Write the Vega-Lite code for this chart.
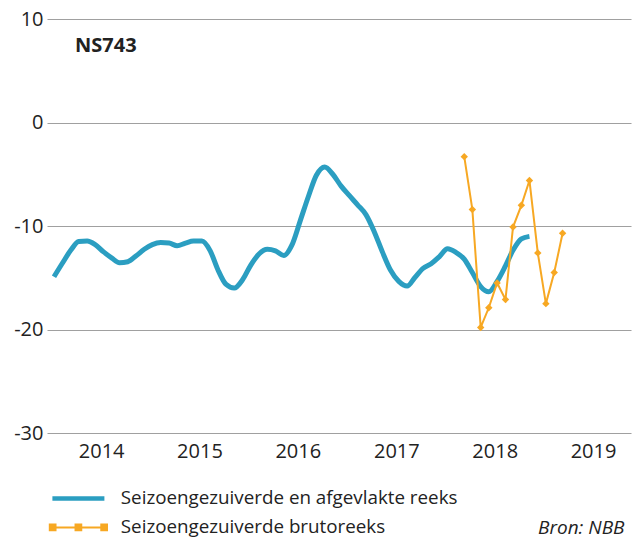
{
  "$schema": "https://vega.github.io/schema/vega-lite/v6.json",
  "width": 584,
  "height": 414,
  "autosize": {"type": "none"},
  "padding": {"left": 47, "top": 19, "right": 1, "bottom": 106},
  "background": "white",
  "title": {"text": "NS743", "anchor": "start", "frame": "group", "offset": -47, "dx": 28, "fontSize": 20, "font": "Open Sans", "fontWeight": "bold", "color": "#222222"},
  "config": {"view": {"stroke": null}, "font": "Open Sans"},
  "data": {"values": [
    {"date": "2013-07-10", "value": -14.9, "series": "Seizoengezuiverde en afgevlakte reeks"},
    {"date": "2013-08-10", "value": -13.6, "series": "Seizoengezuiverde en afgevlakte reeks"},
    {"date": "2013-09-10", "value": -12.35, "series": "Seizoengezuiverde en afgevlakte reeks"},
    {"date": "2013-10-10", "value": -11.5, "series": "Seizoengezuiverde en afgevlakte reeks"},
    {"date": "2013-11-10", "value": -11.45, "series": "Seizoengezuiverde en afgevlakte reeks"},
    {"date": "2013-12-10", "value": -11.8, "series": "Seizoengezuiverde en afgevlakte reeks"},
    {"date": "2014-01-10", "value": -12.5, "series": "Seizoengezuiverde en afgevlakte reeks"},
    {"date": "2014-02-10", "value": -13.1, "series": "Seizoengezuiverde en afgevlakte reeks"},
    {"date": "2014-03-10", "value": -13.55, "series": "Seizoengezuiverde en afgevlakte reeks"},
    {"date": "2014-04-10", "value": -13.45, "series": "Seizoengezuiverde en afgevlakte reeks"},
    {"date": "2014-05-10", "value": -12.9, "series": "Seizoengezuiverde en afgevlakte reeks"},
    {"date": "2014-06-10", "value": -12.25, "series": "Seizoengezuiverde en afgevlakte reeks"},
    {"date": "2014-07-10", "value": -11.8, "series": "Seizoengezuiverde en afgevlakte reeks"},
    {"date": "2014-08-10", "value": -11.6, "series": "Seizoengezuiverde en afgevlakte reeks"},
    {"date": "2014-09-10", "value": -11.65, "series": "Seizoengezuiverde en afgevlakte reeks"},
    {"date": "2014-10-10", "value": -11.9, "series": "Seizoengezuiverde en afgevlakte reeks"},
    {"date": "2014-11-10", "value": -11.65, "series": "Seizoengezuiverde en afgevlakte reeks"},
    {"date": "2014-12-10", "value": -11.45, "series": "Seizoengezuiverde en afgevlakte reeks"},
    {"date": "2015-01-10", "value": -11.45, "series": "Seizoengezuiverde en afgevlakte reeks"},
    {"date": "2015-02-10", "value": -12.4, "series": "Seizoengezuiverde en afgevlakte reeks"},
    {"date": "2015-03-10", "value": -14.2, "series": "Seizoengezuiverde en afgevlakte reeks"},
    {"date": "2015-04-10", "value": -15.65, "series": "Seizoengezuiverde en afgevlakte reeks"},
    {"date": "2015-05-10", "value": -16.0, "series": "Seizoengezuiverde en afgevlakte reeks"},
    {"date": "2015-06-10", "value": -15.2, "series": "Seizoengezuiverde en afgevlakte reeks"},
    {"date": "2015-07-10", "value": -13.8, "series": "Seizoengezuiverde en afgevlakte reeks"},
    {"date": "2015-08-10", "value": -12.7, "series": "Seizoengezuiverde en afgevlakte reeks"},
    {"date": "2015-09-10", "value": -12.25, "series": "Seizoengezuiverde en afgevlakte reeks"},
    {"date": "2015-10-10", "value": -12.4, "series": "Seizoengezuiverde en afgevlakte reeks"},
    {"date": "2015-11-10", "value": -12.85, "series": "Seizoengezuiverde en afgevlakte reeks"},
    {"date": "2015-12-10", "value": -11.85, "series": "Seizoengezuiverde en afgevlakte reeks"},
    {"date": "2016-01-10", "value": -9.5, "series": "Seizoengezuiverde en afgevlakte reeks"},
    {"date": "2016-02-10", "value": -7.1, "series": "Seizoengezuiverde en afgevlakte reeks"},
    {"date": "2016-03-10", "value": -5.1, "series": "Seizoengezuiverde en afgevlakte reeks"},
    {"date": "2016-04-10", "value": -4.3, "series": "Seizoengezuiverde en afgevlakte reeks"},
    {"date": "2016-05-10", "value": -5.0, "series": "Seizoengezuiverde en afgevlakte reeks"},
    {"date": "2016-06-10", "value": -6.15, "series": "Seizoengezuiverde en afgevlakte reeks"},
    {"date": "2016-07-10", "value": -7.05, "series": "Seizoengezuiverde en afgevlakte reeks"},
    {"date": "2016-08-10", "value": -7.95, "series": "Seizoengezuiverde en afgevlakte reeks"},
    {"date": "2016-09-10", "value": -8.9, "series": "Seizoengezuiverde en afgevlakte reeks"},
    {"date": "2016-10-10", "value": -10.5, "series": "Seizoengezuiverde en afgevlakte reeks"},
    {"date": "2016-11-10", "value": -12.5, "series": "Seizoengezuiverde en afgevlakte reeks"},
    {"date": "2016-12-10", "value": -14.25, "series": "Seizoengezuiverde en afgevlakte reeks"},
    {"date": "2017-01-10", "value": -15.35, "series": "Seizoengezuiverde en afgevlakte reeks"},
    {"date": "2017-02-10", "value": -15.8, "series": "Seizoengezuiverde en afgevlakte reeks"},
    {"date": "2017-03-10", "value": -15.0, "series": "Seizoengezuiverde en afgevlakte reeks"},
    {"date": "2017-04-10", "value": -14.1, "series": "Seizoengezuiverde en afgevlakte reeks"},
    {"date": "2017-05-10", "value": -13.65, "series": "Seizoengezuiverde en afgevlakte reeks"},
    {"date": "2017-06-10", "value": -12.95, "series": "Seizoengezuiverde en afgevlakte reeks"},
    {"date": "2017-07-10", "value": -12.2, "series": "Seizoengezuiverde en afgevlakte reeks"},
    {"date": "2017-08-10", "value": -12.55, "series": "Seizoengezuiverde en afgevlakte reeks"},
    {"date": "2017-09-10", "value": -13.2, "series": "Seizoengezuiverde en afgevlakte reeks"},
    {"date": "2017-10-10", "value": -14.5, "series": "Seizoengezuiverde en afgevlakte reeks"},
    {"date": "2017-11-10", "value": -15.85, "series": "Seizoengezuiverde en afgevlakte reeks"},
    {"date": "2017-12-10", "value": -16.35, "series": "Seizoengezuiverde en afgevlakte reeks"},
    {"date": "2018-01-10", "value": -15.35, "series": "Seizoengezuiverde en afgevlakte reeks"},
    {"date": "2018-02-10", "value": -13.85, "series": "Seizoengezuiverde en afgevlakte reeks"},
    {"date": "2018-03-10", "value": -12.35, "series": "Seizoengezuiverde en afgevlakte reeks"},
    {"date": "2018-04-10", "value": -11.25, "series": "Seizoengezuiverde en afgevlakte reeks"},
    {"date": "2018-05-10", "value": -11.0, "series": "Seizoengezuiverde en afgevlakte reeks"},
    {"date": "2017-09-10", "value": -3.3, "series": "Seizoengezuiverde brutoreeks"},
    {"date": "2017-10-10", "value": -8.4, "series": "Seizoengezuiverde brutoreeks"},
    {"date": "2017-11-10", "value": -19.8, "series": "Seizoengezuiverde brutoreeks"},
    {"date": "2017-12-10", "value": -17.9, "series": "Seizoengezuiverde brutoreeks"},
    {"date": "2018-01-10", "value": -15.5, "series": "Seizoengezuiverde brutoreeks"},
    {"date": "2018-02-10", "value": -17.1, "series": "Seizoengezuiverde brutoreeks"},
    {"date": "2018-03-10", "value": -10.1, "series": "Seizoengezuiverde brutoreeks"},
    {"date": "2018-04-10", "value": -8.0, "series": "Seizoengezuiverde brutoreeks"},
    {"date": "2018-05-10", "value": -5.6, "series": "Seizoengezuiverde brutoreeks"},
    {"date": "2018-06-10", "value": -12.6, "series": "Seizoengezuiverde brutoreeks"},
    {"date": "2018-07-10", "value": -17.5, "series": "Seizoengezuiverde brutoreeks"},
    {"date": "2018-08-10", "value": -14.5, "series": "Seizoengezuiverde brutoreeks"},
    {"date": "2018-09-10", "value": -10.7, "series": "Seizoengezuiverde brutoreeks"}
  ]},
  "encoding": {
    "x": {
      "field": "date", "type": "temporal",
      "scale": {"domain": ["2013-06-14", "2019-05-22"]},
      "axis": {
        "format": "%Y", "tickCount": {"interval": "year", "step": 1},
        "grid": false, "domain": false, "ticks": false,
        "labelFontSize": 20, "labelColor": "#222222", "labelPadding": 8,
        "labelFlush": false, "labelOverlap": false,
        "title": "Bron: NBB", "titleFontStyle": "italic", "titleFontWeight": "normal",
        "titleFontSize": 19, "titleColor": "#222222", "titleAnchor": "end", "titleAlign": "right",
        "titleX": 577, "titleY": 94, "titleBaseline": "middle"
      }
    },
    "y": {
      "field": "value", "type": "quantitative",
      "scale": {"domain": [-30, 10], "nice": false},
      "axis": {
        "values": [-30, -20, -10, 0, 10], "grid": true, "gridColor": "#a0a0a0", "gridWidth": 1.2,
        "domain": false, "ticks": false, "labelPadding": 4, "labelFontSize": 20,
        "labelColor": "#222222", "title": null, "labelExpr": "'' + datum.value"
      }
    },
    "color": {
      "field": "series", "type": "nominal",
      "scale": {"domain": ["Seizoengezuiverde en afgevlakte reeks", "Seizoengezuiverde brutoreeks"], "range": ["#2B9EC1", "#F7A823"]},
      "legend": {
        "orient": "none", "legendX": 22, "legendY": 470, "title": null, "padding": 0,
        "labelFontSize": 18.8, "labelColor": "#222222", "labelLimit": 0, "symbolType": "stroke", "symbolSize": 2704,
        "rowPadding": 9, "labelOffset": 33,
        "encode": {"symbols": {"update": {
          "shape": {"signal": "datum.value === 'Seizoengezuiverde brutoreeks' ? 'M-1,0H1M-1.1,-0.11H-0.88V0.11H-1.1ZM-0.11,-0.11H0.11V0.11H-0.11ZM0.88,-0.11H1.1V0.11H0.88Z' : 'M-1,0H1'"},
          "strokeWidth": {"signal": "datum.value === 'Seizoengezuiverde brutoreeks' ? 2 : 4.5"},
          "fill": {"signal": "datum.value === 'Seizoengezuiverde brutoreeks' ? '#F7A823' : 'transparent'"}
        }}}
      }
    }
  },
  "layer": [
    {
      "transform": [{"filter": "datum.series === 'Seizoengezuiverde en afgevlakte reeks'"}],
      "mark": {"type": "line", "strokeWidth": 5, "interpolate": "monotone", "strokeCap": "butt"}
    },
    {
      "transform": [{"filter": "datum.series === 'Seizoengezuiverde brutoreeks'"}],
      "mark": {"type": "line", "strokeWidth": 2, "point": {"shape": "diamond", "size": 55, "filled": true}}
    }
  ]
}
